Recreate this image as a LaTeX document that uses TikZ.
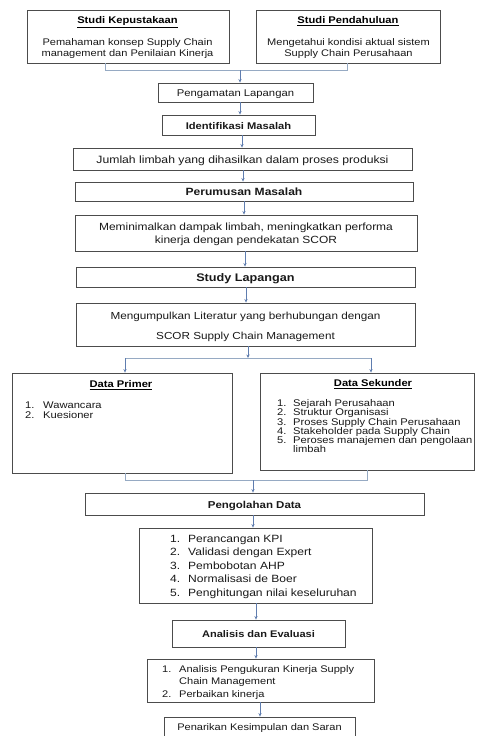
\documentclass[tikz,border=0pt]{standalone}
\usepackage{fontspec}
\setmainfont{Liberation Sans}[FakeStretch=1.15]
\usetikzlibrary{arrows.meta}
\definecolor{arrc}{RGB}{95,125,175}
\definecolor{mergec}{RGB}{150,170,195}
\newcommand\fsz[2]{\fontsize{#1}{#2}\selectfont}
\newcommand\li[1]{\makebox[18pt][l]{#1}}
\newcommand\lj[1]{\makebox[16pt][l]{#1}}
\newcommand\lk[1]{\makebox[17pt][l]{#1}}
\begin{document}
\begin{tikzpicture}[x=1pt,y=-1pt,
  box/.style={draw=black!70, line width=0.9pt, inner sep=0pt, fill=white},
  txt/.style={inner sep=0pt, text=black!90, yshift=-1.8pt},
  head/.style={inner sep=0pt, anchor=mid, yshift=-1.2pt, font=\bfseries\fsz{9.7}{11}},
  arr/.style={draw=arrc, line width=0.8pt, -{Stealth[length=3.5pt,width=3.2pt]}},
  mline/.style={draw=mergec, line width=0.9pt}]
\useasboundingbox (0,0) rectangle (477,736);
\fill[white] (0,0) rectangle (477,736);

% boxes
\node[box, minimum width=202, minimum height=53] (k1) at (128,36.5) {};
\node[box, minimum width=184, minimum height=53] (k2) at (348,36.5) {};
\node[box, minimum width=155, minimum height=19] (peng) at (235.5,92.5) {};
\node[box, minimum width=153, minimum height=20] (idm) at (238.5,125) {};
\node[box, minimum width=339, minimum height=22] (jum) at (242.5,159) {};
\node[box, minimum width=338, minimum height=19] (perum) at (244,191.5) {};
\node[box, minimum width=342, minimum height=36] (memin) at (246,233) {};
\node[box, minimum width=339, minimum height=20] (study) at (245.5,277) {};
\node[box, minimum width=339, minimum height=43] (mengum) at (245.5,324.5) {};
\node[box, minimum width=220, minimum height=100] (dp) at (122,423) {};
\node[box, minimum width=214, minimum height=97] (ds) at (367,421.5) {};
\node[box, minimum width=339, minimum height=22] (pd) at (254.5,504) {};
\node[box, minimum width=233, minimum height=75] (l1) at (255.5,565.5) {};
\node[box, minimum width=173, minimum height=27] (ae) at (258.5,633.5) {};
\node[box, minimum width=227, minimum height=43] (l2) at (260.5,680.5) {};
\node[box, minimum width=191, minimum height=19] (pks) at (259.5,726.5) {};

% texts
\node[head] (k1h) at (127.5,20) {\underline{Studi Kepustakaan}};
\node[txt, align=center, font=\fsz{9.6}{11}] (k1t) at (127.5,46.5) {Pemahaman konsep Supply Chain\\management dan Penilaian Kinerja};
\node[head] (k2h) at (348,20) {\underline{Studi Pendahuluan}};
\node[txt, align=center, font=\fsz{9.6}{11}] (k2t) at (348.5,46.5) {Mengetahui kondisi aktual sistem\\Supply Chain Perusahaan};
\node[txt, anchor=mid, font=\fsz{9.8}{11}] (pengt) at (235.5,92.5) {Pengamatan Lapangan};
\node[txt, anchor=mid, font=\bfseries\fsz{9.7}{11}] (idmt) at (238.5,125) {Identifikasi Masalah};
\node[txt, anchor=mid, font=\fsz{10.6}{12}] (jumt) at (242.5,159) {Jumlah limbah yang dihasilkan dalam proses produksi};
\node[txt, anchor=mid, font=\bfseries\fsz{10.5}{12}] (perumt) at (244,191.5) {Perumusan Masalah};
\node[txt, align=center, font=\fsz{10.4}{13}] (memint) at (246,233) {Meminimalkan dampak limbah, meningkatkan performa\\kinerja dengan pendekatan SCOR};
\node[txt, anchor=mid, font=\bfseries\fsz{11}{12}] (studyt) at (245.5,277) {Study Lapangan};
\node[txt, align=center, font=\fsz{10.2}{20}] (mengumt) at (245.5,325) {Mengumpulkan Literatur yang berhubungan dengan\\SCOR Supply Chain Management};
\node[head] (dph) at (121,384) {\underline{Data Primer}};
\node[txt, anchor=west, align=left, font=\fsz{9.7}{10}] (dpt) at (25,408) {\li{1.}Wawancara\\\li{2.}Kuesioner};
\node[head] (dsh) at (373,383) {\underline{Data Sekunder}};
\node[txt, anchor=west, align=left, font=\fsz{9.7}{9.2}] (dst) at (277,424.5) {\lj{1.}Sejarah Perusahaan\\\lj{2.}Struktur Organisasi\\\lj{3.}Proses Supply Chain Perusahaan\\\lj{4.}Stakeholder pada Supply Chain\\\lj{5.}Peroses manajemen dan pengolaan\\\lj{}limbah};
\node[txt, anchor=mid, font=\bfseries\fsz{10}{11}] (pdt) at (254.5,504) {Pengolahan Data};
\node[txt, anchor=west, align=left, font=\fsz{10.5}{13.5}] (l1t) at (170,565) {\li{1.}Perancangan KPI\\\li{2.}Validasi dengan Expert\\\li{3.}Pembobotan AHP\\\li{4.}Normalisasi de Boer\\\li{5.}Penghitungan nilai keseluruhan};
\node[txt, anchor=mid, font=\bfseries\fsz{9.6}{11}] (aet) at (258.5,633) {Analisis dan Evaluasi};
\node[txt, anchor=west, align=left, font=\fsz{9.6}{12.5}] (l2t) at (162,680.5) {\lk{1.}Analisis Pengukuran Kinerja Supply\\\lk{}Chain Management\\\lk{2.}Perbaikan kinerja};
\node[txt, anchor=mid, font=\fsz{9.6}{11}] (pkst) at (259.5,726) {Penarikan Kesimpulan dan Saran};

% connectors
\coordinate (m1l) at (105,70);
\coordinate (m1r) at (347,70);
\coordinate (m1) at (240,70);
\draw[mline] (m1l |- k1.south) -- (m1l) -- (m1r) -- (m1r |- k2.south);
\draw[arr] (m1) -- (m1 |- peng.north);
\draw[arr] (peng.south -| 240,0) -- (idm.north -| 240,0);
\draw[arr] (idm.south -| 242,0) -- (jum.north -| 242,0);
\draw[arr] (jum.south -| 243,0) -- (perum.north -| 243,0);
\draw[arr] (perum.south -| 244,0) -- (memin.north -| 244,0);
\draw[arr] (memin.south -| 245,0) -- (study.north -| 245,0);
\draw[arr] (study.south -| 246,0) -- (mengum.north -| 246,0);
\coordinate (sp) at (248,358);
\coordinate (spl) at (125,358);
\coordinate (spr) at (371,358);
\draw[mline] (spl) -- (spr);
\draw[arr] (mengum.south -| sp) -- (sp);
\draw[arr] (spl) -- (spl |- dp.north);
\draw[arr] (spr) -- (spr |- ds.north);
\coordinate (m2l) at (125,480);
\coordinate (m2r) at (367,480);
\coordinate (m2) at (253,480);
\draw[mline] (m2l |- dp.south) -- (m2l) -- (m2r) -- (m2r |- ds.south);
\draw[arr] (m2) -- (m2 |- pd.north);
\draw[arr] (pd.south -| 253,0) -- (l1.north -| 253,0);
\draw[arr] (l1.south -| 256,0) -- (ae.north -| 256,0);
\draw[arr] (ae.south -| 256,0) -- (l2.north -| 256,0);
\draw[arr] (l2.south -| 260,0) -- (pks.north -| 260,0);
\end{tikzpicture}
\end{document}
